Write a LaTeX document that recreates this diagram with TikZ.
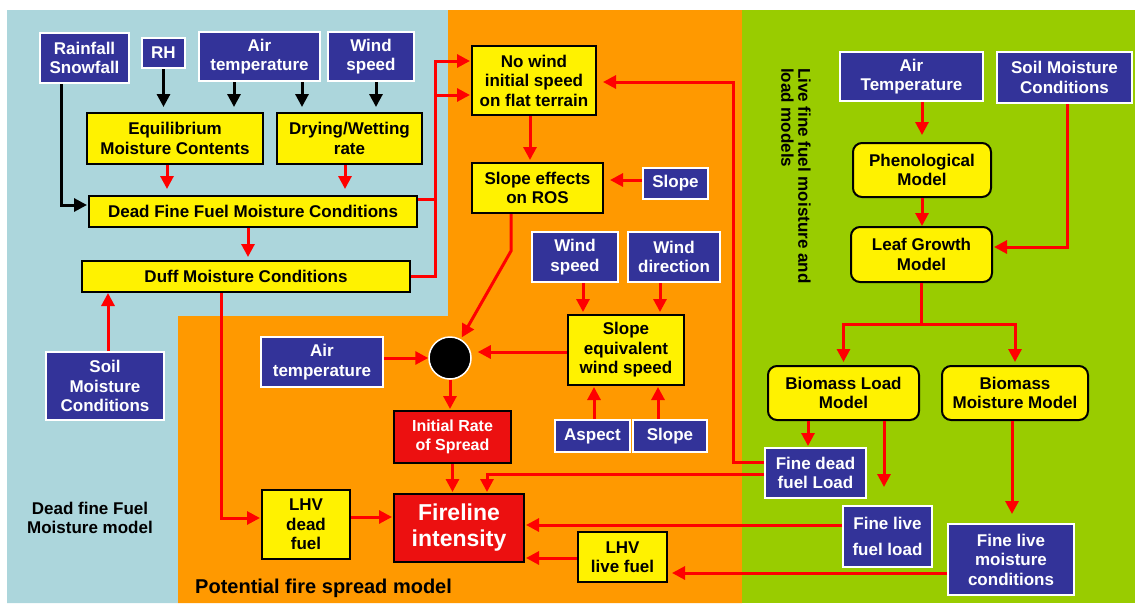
\documentclass[tikz,border=0pt]{standalone}
\usepackage{fontspec}
\setmainfont{Liberation Sans}
\usetikzlibrary{arrows.meta}
\definecolor{lblue}{RGB}{172,214,220}
\definecolor{orng}{RGB}{255,153,0}
\definecolor{grn}{RGB}{153,204,0}
\definecolor{dblue}{RGB}{51,51,153}
\definecolor{rbox}{RGB}{236,16,16}
\definecolor{lred}{RGB}{255,0,0}
\tikzset{
 bx/.style={rectangle, inner sep=0pt, align=center, font=\bfseries\fontsize{17}{19.5}\selectfont, line width=2pt},
 bluebox/.style={bx, fill=dblue, draw=white, text=white},
 yelbox/.style={bx, fill=yellow, draw=black},
 yelround/.style={yelbox, rounded corners=9pt},
 redbox/.style={bx, fill=rbox, draw=black, text=white},
 rarr/.style={draw=lred, line width=3pt, -{Triangle[width=13pt,length=13pt]}},
 barr/.style={draw=black, line width=3pt, -{Triangle[width=13pt,length=13pt]}},
 lbl/.style={font=\bfseries\fontsize{17}{19.5}\selectfont, align=center, inner sep=0pt}
}
\begin{document}
\begin{tikzpicture}[x=1pt,y=-1pt]
\useasboundingbox (0,0) rectangle (1135,603);
\fill[white] (0,0) rectangle (1135,603);
\fill[lblue] (7,10) -- (448,10) -- (448,316) -- (178,316) -- (178,603) -- (7,603) -- cycle;
\fill[orng] (448,10) -- (742,10) -- (742,603) -- (178,603) -- (178,316) -- (448,316) -- cycle;
\fill[grn] (742,10) rectangle (1135,603);

% nodes
\node[bluebox, minimum width=89pt, minimum height=50pt] (rain) at (84.5,58) {Rainfall\\Snowfall};
\node[bluebox, minimum width=43pt, minimum height=30pt] (rh) at (163.5,53) {RH};
\node[bluebox, minimum width=121pt, minimum height=49pt] (airA) at (259.5,56.5) {Air\\temperature};
\node[bluebox, minimum width=86pt, minimum height=49pt] (windA) at (371,56.5) {Wind\\speed};
\node[yelbox, minimum width=176pt, minimum height=51pt] (emc) at (175,138.5) {Equilibrium\\Moisture Contents};
\node[yelbox, minimum width=145pt, minimum height=51pt] (dw) at (349.5,138.5) {Drying/Wetting\\rate};
\node[yelbox, minimum width=328pt, minimum height=31pt] (dffmc) at (253,211.5) {Dead Fine Fuel Moisture Conditions};
\node[yelbox, minimum width=328pt, minimum height=31pt] (duff) at (246,276.5) {Duff Moisture Conditions};
\node[bluebox, minimum width=118pt, minimum height=68pt] (soilA) at (105,386) {Soil\\Moisture\\Conditions};
\node[yelbox, minimum width=124pt, minimum height=69pt] (nowind) at (534,80.5) {No wind\\initial speed\\on flat terrain};
\node[yelbox, minimum width=131pt, minimum height=50pt] (sros) at (537.5,188) {Slope effects\\on ROS};
\node[bluebox, minimum width=65pt, minimum height=31pt] (slopeA) at (675.5,183.5) {Slope};
\node[bluebox, minimum width=86pt, minimum height=50pt] (windB) at (575,257) {Wind\\speed};
\node[bluebox, minimum width=92pt, minimum height=50pt] (wdir) at (674,257) {Wind\\direction};
\node[yelbox, minimum width=116pt, minimum height=70pt] (sews) at (626,350) {Slope\\equivalent\\wind speed};
\node[bluebox, minimum width=75pt, minimum height=32pt] (aspect) at (592.5,436) {Aspect};
\node[bluebox, minimum width=74pt, minimum height=32pt] (slopeB) at (670,436) {Slope};
\node[bluebox, minimum width=122pt, minimum height=50pt] (airB) at (322,362) {Air\\temperature};
\node[circle, fill=black, draw=white, line width=1.5pt, minimum size=42pt, inner sep=0pt] (circ) at (450,358) {};
\node[redbox, minimum width=117pt, minimum height=52pt, font=\bfseries\fontsize{16}{19}\selectfont] (irs) at (452.5,437) {Initial Rate\\of Spread};
\node[redbox, minimum width=130pt, minimum height=68pt, font=\bfseries\fontsize{23}{26}\selectfont] (fire) at (459,528) {Fireline\\intensity};
\node[yelbox, minimum width=88pt, minimum height=69pt] (lhvd) at (306,524.5) {LHV\\dead\\fuel};
\node[yelbox, minimum width=89pt, minimum height=50pt] (lhvl) at (622.5,557) {LHV\\live fuel};
\node[bluebox, minimum width=143pt, minimum height=49pt] (airC) at (911.5,76.5) {Air\\Temperature};
\node[bluebox, minimum width=135pt, minimum height=51pt] (soilB) at (1064.5,77.5) {Soil Moisture\\Conditions};
\node[yelround, minimum width=138pt, minimum height=54pt] (pheno) at (922,170) {Phenological\\Model};
\node[yelround, minimum width=141pt, minimum height=55pt] (leaf) at (921.5,254.5) {Leaf Growth\\Model};
\node[yelround, minimum width=151pt, minimum height=54pt] (blm) at (843.5,393) {Biomass Load\\Model};
\node[yelround, minimum width=146pt, minimum height=54pt] (bmm) at (1015,393) {Biomass\\Moisture Model};
\node[bluebox, minimum width=101pt, minimum height=50pt] (fdfl) at (815.5,473) {Fine dead\\fuel Load};
\node[bluebox, minimum width=89pt, minimum height=61pt, font=\bfseries\fontsize{17}{26}\selectfont] (flfl) at (887.5,536.5) {Fine live\\fuel load};
\node[bluebox, minimum width=126pt, minimum height=71pt] (flmc) at (1011,559.5) {Fine live\\moisture\\conditions};

% labels
\node[lbl] (lblDead) at (90,518) {Dead fine Fuel\\Moisture model};
\node[lbl, anchor=base west, font=\bfseries\fontsize{20}{24}\selectfont] (lblPot) at (195,593) {Potential fire spread model};
\node[lbl, anchor=north west, rotate=-90, align=left, font=\bfseries\fontsize{17}{17}\selectfont] (lblLive) at (811,68) {Live fine fuel moisture and\\load models};

% black connectors
\draw[barr, shorten >=1pt] ([xshift=-23.5pt]rain.south) |- ([yshift=6.5pt]dffmc.west);
\draw[barr, shorten >=5pt] (rh.south) -- (rh.south |- emc.north);
\draw[barr, shorten >=5pt] ([xshift=-25.5pt]airA.south) -- ([xshift=59pt]emc.north);
\draw[barr, shorten >=5pt] ([xshift=42.5pt]airA.south) -- ([xshift=-47.5pt]dw.north);
\draw[barr, shorten >=5pt] ([xshift=5pt]windA.south) -- ([xshift=26.5pt]dw.north);

% red connectors
\draw[rarr, shorten >=6pt] ([xshift=-8pt]emc.south) -- ([xshift=-86pt]dffmc.north);
\draw[rarr, shorten >=6pt] ([xshift=-4.5pt]dw.south) -- ([xshift=92pt]dffmc.north);
\draw[rarr, shorten >=3pt] ([xshift=-5pt]dffmc.south) -- ([xshift=2pt]duff.north);
\draw[rarr, shorten >=1pt] (duff.east) -| ([xshift=-36pt,yshift=19.5pt]nowind.west) -- ([yshift=19.5pt]nowind.west);
\draw[rarr, shorten >=1pt] ([yshift=12.5pt]dffmc.east) -| ([xshift=-36pt,yshift=-14.5pt]nowind.west) -- ([yshift=-14.5pt]nowind.west);
\draw[rarr] ([xshift=3pt]soilA.north) -- ([xshift=-138pt]duff.south);
\draw[rarr, shorten >=1pt] ([xshift=-25pt]duff.south) |- ([yshift=6.5pt]lhvd.west);
\draw[rarr, shorten >=1pt] ([yshift=7.5pt]lhvd.east) -- ([yshift=11pt]fire.west);
\draw[rarr, shorten >=2pt] ([xshift=-4pt]nowind.south) -- ([xshift=-7.5pt]sros.north);
\draw[rarr, shorten >=6pt] ([yshift=3.5pt]slopeA.west) -- ([yshift=8pt]sros.east);
\draw[rarr, shorten >=2pt] ([xshift=-26.5pt]sros.south) -- ++(0,-37pt) -- (circ);
\draw[rarr] ([yshift=4pt]airB.east) -- (circ.west);
\draw[rarr, shorten >=6pt] ([yshift=-2pt]sews.west) -- ([yshift=6pt]circ.east);
\draw[rarr, shorten >=1pt] (circ.south) -- (circ.south |- irs.north);
\draw[rarr, shorten >=1pt] (irs.south) -- (irs.south |- fire.north);
\draw[rarr, shorten >=1pt] ([yshift=-1pt]fdfl.west) -| ([xshift=28pt]fire.north);
\draw[rarr, shorten >=6pt] ([yshift=11pt]fdfl.west) -| ([xshift=136pt,yshift=-1.5pt]nowind.east) -- ([yshift=-1.5pt]nowind.east);
\draw[rarr, shorten >=1pt] ([yshift=11.5pt]flfl.west) -- ([yshift=3pt]fire.east);
\draw[rarr, shorten >=1pt] ([yshift=-1pt]lhvl.west) -- ([yshift=-30pt]fire.east);
\draw[rarr, shorten >=4pt] ([yshift=-13.5pt]flmc.west) -- ([yshift=-16pt]lhvl.east);
\draw[rarr, shorten >=2pt] ([xshift=8pt]windB.south) -- ([xshift=-43pt]sews.north);
\draw[rarr, shorten >=2pt] ([xshift=-14pt]wdir.south) -- ([xshift=34pt]sews.north);
\draw[rarr, shorten >=1pt] ([xshift=1.5pt]aspect.north) -- ([xshift=-32pt]sews.south);
\draw[rarr, shorten >=1pt] ([xshift=-12pt]slopeB.north) -- ([xshift=32pt]sews.south);
\draw[rarr, shorten >=7pt] ([xshift=10.5pt]airC.south) -- (pheno.north);
\draw[rarr] (pheno.south) -- ([xshift=0.5pt]leaf.north);
\draw[rarr, shorten >=1pt] ([xshift=2.5pt]soilB.south) |- ([yshift=7.5pt]leaf.east);
\draw[rarr, shorten >=3pt] (leaf.south) -- ++(0,-41pt) -| (blm.north);
\draw[rarr, shorten >=3pt] (leaf.south) -- ++(0,-41pt) -| (bmm.north);
\draw[rarr, shorten >=1pt] ([xshift=-35.5pt]blm.south) -- ([xshift=-7.5pt]fdfl.north);
\draw[rarr, shorten >=18pt] ([xshift=40.5pt]blm.south) -- ([xshift=-3.5pt]flfl.north);
\draw[rarr, shorten >=9pt] ([xshift=-3pt]bmm.south) -- ([xshift=1pt]flmc.north);
\end{tikzpicture}
\end{document}
